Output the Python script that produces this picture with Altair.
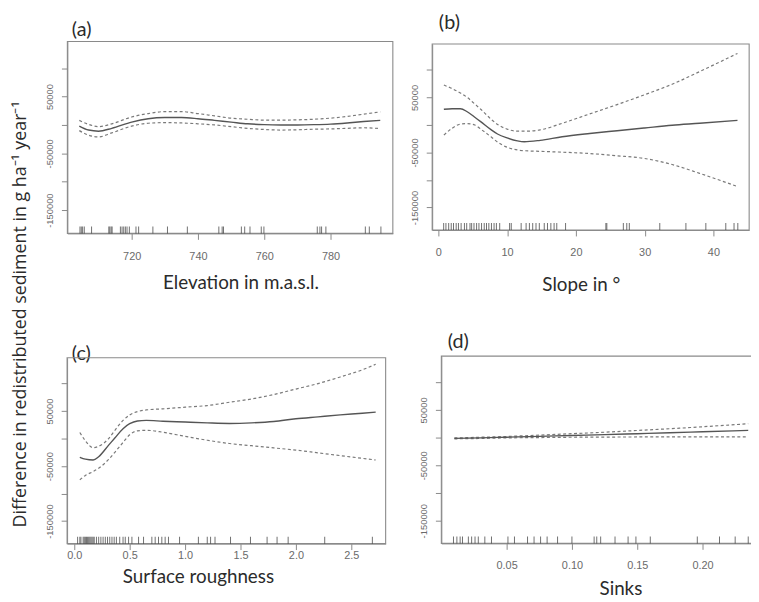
import altair as alt
import pandas as pd

# ---------------- values ----------------
Y_DOMAIN = [-191000, 147000]
Y_TICKS = [100000, 50000, 0, -50000, -100000, -150000]
Y_TITLE = "Difference in redistributed sediment in g ha\u207b\u00b9 year\u207b\u00b9"

# (a) Elevation
elev_x = [704.2, 707, 710, 714, 720, 725, 730, 735, 740, 745, 750, 755, 760, 765, 770, 775, 780, 785, 790, 795]
elev_fit = [-2000, -9000, -11000, -6000, 5000, 11000, 13000, 13000, 11000, 8000, 5000, 2000, 500, 0, 0, 500, 1500, 3500, 6000, 8000]
elev_upper = [8000, 1000, -3000, 2000, 14000, 20000, 23500, 23500, 20000, 16000, 12000, 10000, 8500, 8500, 9000, 10000, 12000, 15000, 19000, 23000]
elev_lower = [-10000, -18000, -21000, -14000, -2000, 3000, 4000, 3500, 2000, 0, -3000, -6000, -8000, -9000, -8500, -7500, -7000, -6000, -5000, -6500]
elev_rug = [704.4, 704.8, 705.2, 705.7, 707.9, 713.1, 713.4, 713.8, 714.1, 716.6, 717.1, 717.6, 718.1, 718.6,
            719.3, 721.3, 722.1, 726.4, 730.8, 736.8, 746.3, 747.3, 747.7, 753.1, 754.1, 755.7, 759.1, 759.9,
            776.0, 776.8, 777.3, 778.6, 790.5, 791.7, 795.2]
elev_ticks = [720, 740, 760, 780]

# (b) Slope
slope_x = [0.8, 2, 3.2, 4.2, 5.3, 6.2, 7.7, 8.6, 10.1, 11.5, 12.5, 14.8, 18, 22, 26, 30, 34, 38, 43.5]
slope_fit = [28500, 29500, 29500, 24000, 14000, 5500, -9000, -16500, -24000, -29000, -30600, -28000, -21500,
             -15600, -10500, -5500, -600, 3000, 8400]
slope_upper = [72500, 66000, 58000, 50000, 38000, 28000, 10000, 1000, -8000, -11400, -11400, -9000, 3000, 20000,
               37000, 55000, 74000, 97000, 130000]
slope_lower = [-18500, -6000, 1500, 2500, 0, -8000, -22000, -31000, -41000, -45500, -46800, -48000, -49500,
               -52000, -56000, -61000, -72000, -88000, -112000]
slope_rug = [0.77, 1.1, 1.5, 1.87, 2.2, 2.59, 2.92, 3.31, 3.79, 4.12, 4.6, 4.84, 5.18, 5.56, 5.9, 6.28, 6.67, 7.0,
             7.34, 7.72, 8.1, 8.44, 8.92, 10.36, 10.6, 12.04, 12.76, 13.24, 13.72, 14.2, 14.68, 15.4, 15.87, 16.36,
             16.83, 17.22, 18.5, 24.36, 24.5, 26.9, 27.4, 27.77, 32.2, 36.0, 38.9, 41.8, 43.0, 43.55]
slope_ticks = [0, 10, 20, 30, 40]

# (c) Surface roughness
rough_x = [0.05, 0.1, 0.17, 0.22, 0.31, 0.37, 0.44, 0.5, 0.57, 0.65, 0.8, 1.0, 1.2, 1.4, 1.6, 1.8, 2.0, 2.2, 2.4, 2.6, 2.72]
rough_fit = [-34000, -37500, -39000, -33000, -12000, 2000, 18000, 27000, 32000, 33000, 31500, 30000, 28500, 27500,
             28500, 31000, 36000, 39500, 43000, 46000, 48000]
rough_upper = [11000, -4000, -16500, -14000, 0, 16000, 33000, 43000, 49000, 52000, 54000, 57000, 60000, 66000,
               72000, 80000, 90000, 100000, 112000, 125000, 135000]
rough_lower = [-75000, -67000, -60000, -54000, -38000, -24000, -7000, 7000, 14000, 15000, 11500, 4000, -3000, -9000,
               -13000, -17000, -21000, -26000, -31000, -36000, -39000]
rough_rug = [0.03, 0.05, 0.06, 0.08, 0.09, 0.1, 0.11, 0.12, 0.13, 0.14, 0.15, 0.16, 0.17, 0.18, 0.2, 0.22, 0.24,
             0.26, 0.28, 0.3, 0.32, 0.34, 0.36, 0.38, 0.41, 0.44, 0.46, 0.49, 0.52, 0.58, 0.625, 0.70, 0.73, 0.76,
             0.79, 0.82, 0.85, 0.95, 1.12, 1.2, 1.23, 1.27, 1.41, 1.59, 1.74, 1.83, 1.93, 2.26, 2.69]
rough_ticks = [0.0, 0.5, 1.0, 1.5, 2.0, 2.5]

# (d) Sinks
sink_x = [0.01, 0.03, 0.05, 0.075, 0.1, 0.125, 0.15, 0.175, 0.2, 0.235]
sink_fit = [-1500, -500, 700, 2200, 3800, 5300, 7000, 8700, 10500, 13000]
sink_upper = [-700, 600, 2000, 4400, 7000, 9700, 12800, 16000, 19500, 25000]
sink_lower = [-2300, -1600, -600, 0, 600, 900, 1100, 1300, 1400, 1200]
sink_rug = [0.0093, 0.0119, 0.0144, 0.0162, 0.0207, 0.0232, 0.0258, 0.0283, 0.0333, 0.0384, 0.051, 0.056, 0.066,
            0.071, 0.076, 0.081, 0.089, 0.100, 0.117, 0.119, 0.122, 0.133, 0.143, 0.149, 0.160, 0.196, 0.213,
            0.225, 0.235]
sink_ticks = [0.05, 0.10, 0.15, 0.20]

# ---------------- layout (page pixels) ----------------
W, H = 751, 594
M = 8  # page margin
FONT = "Lato"
TICKFONT = "Liberation Sans"
GRAY = "#8a8a8a"

PANELS = [
    dict(tag="(a)", tag_xy=(72, 27), x=elev_x, fit=elev_fit, up=elev_upper, lo=elev_lower, rug=elev_rug,
         ticks=elev_ticks, fmt="d", xdom=[700.6, 798.8], cal=(720, 133, 3.35), yz=(123, 28.7),
         xtitle="Elevation in m.a.s.l.", xt_xy=(243, 282), lab_y=256, ytitle=True),
    dict(tag="(b)", tag_xy=(443, 20), x=slope_x, fit=slope_fit, up=slope_upper, lo=slope_lower, rug=slope_rug,
         ticks=slope_ticks, fmt="d", xdom=[-0.9, 45.2], cal=(0, 443, 6.95), yz=(123, 27.8),
         xtitle="Slope in \u00b0", xt_xy=(587, 284), lab_y=251, ytitle=False),
    dict(tag="(c)", tag_xy=(72, 354), x=rough_x, fit=rough_fit, up=rough_upper, lo=rough_lower, rug=rough_rug,
         ticks=rough_ticks, fmt=".1f", xdom=[-0.065, 2.81], cal=(0, 75, 112), yz=(440, 27.8),
         xtitle="Surface roughness", xt_xy=(200, 579), lab_y=558, ytitle=False),
    dict(tag="(d)", tag_xy=(452, 342), x=sink_x, fit=sink_fit, up=sink_upper, lo=sink_lower, rug=sink_rug,
         ticks=sink_ticks, fmt=".2f", xdom=[0, 0.245], cal=(0, 446, 1320), yz=(439, 28),
         xtitle="Sinks", xt_xy=(627, 592), lab_y=568, ytitle=False),
]


def build(p):
    ref, refpx, ppu = p["cal"]
    xr = [refpx + (d - ref) * ppu - M for d in p["xdom"]]
    z, k = p["yz"]
    yr = [z - Y_DOMAIN[0] / 50000 * k - M, z - Y_DOMAIN[1] / 50000 * k - M]
    xs = alt.Scale(domain=p["xdom"], range=xr, nice=False, zero=False)
    ys = alt.Scale(domain=Y_DOMAIN, range=yr, nice=False, zero=False)
    bottom = yr[0]
    lab_font = 11
    x_axis = alt.Axis(
        orient="bottom", offset=bottom - H, values=p["ticks"], format=p["fmt"], grid=False,
        tickSize=6, tickColor=GRAY, domainColor=GRAY, labelColor="#6a6a6a", labelFont=TICKFONT,
        labelFontSize=lab_font, labelPadding=(p["lab_y"] - M) - bottom - 6 - lab_font / 2,
        labelFlush=False, labelOverlap=False,
        title=p["xtitle"], titleX=p["xt_xy"][0] - M, titleY=(p["xt_xy"][1] - M) - bottom,
        titleAlign="center", titleBaseline="middle", titleFont=FONT, titleFontSize=19,
        titleFontWeight="normal", titleColor="#2b2b2b",
    )
    y_kwargs = dict(
        orient="left", offset=-xr[0], values=Y_TICKS, grid=False, tickSize=6, tickColor=GRAY,
        domainColor=GRAY, labelColor="#6a6a6a", labelFont=TICKFONT, labelFontSize=9.5, labelAngle=270,
        labelAlign="center", labelBaseline="bottom", labelPadding=7, labelOverlap=False,
        labelExpr="abs(datum.value) % 100000 == 50000 ? '' + datum.value : ''",
    )
    if p["ytitle"]:
        y_kwargs.update(title=Y_TITLE, titleX=21 - M - xr[0], titleY=314 - M, titleAngle=270,
                        titleAlign="center", titleBaseline="middle", titleFont="Open Sans", titleFontSize=18,
                        titleFontWeight="normal", titleColor="#2b2b2b")
    else:
        y_kwargs.update(title=None)
    y_axis = alt.Axis(**y_kwargs)
    tag_axis = alt.Axis(
        orient="top", offset=0, domain=False, ticks=False, labels=False, grid=False,
        title=p["tag"], titleX=p["tag_xy"][0] - M, titleY=p["tag_xy"][1] - M, titleAlign="left",
        titleBaseline="middle", titleFont=FONT, titleFontSize=20, titleFontWeight="normal",
        titleColor="#2b2b2b",
    )

    box = alt.Chart(pd.DataFrame({"k": [0]})).mark_rect(
        fill="transparent", stroke=GRAY, strokeWidth=1.1
    ).encode(
        x=alt.XDatum(p["xdom"][0], type="quantitative", scale=xs, axis=tag_axis),
        x2=alt.X2Datum(p["xdom"][1]),
        y=alt.YDatum(Y_DOMAIN[0], type="quantitative", scale=ys, axis=None),
        y2=alt.Y2Datum(Y_DOMAIN[1]),
    )

    band_df = pd.DataFrame({
        "x": list(p["x"]) * 2,
        "y": list(p["up"]) + list(p["lo"]),
        "band": ["upper"] * len(p["x"]) + ["lower"] * len(p["x"]),
    })
    bands = alt.Chart(band_df).mark_line(
        color="#7a7a7a", strokeWidth=1.2, strokeDash=[3, 2.5], interpolate="monotone"
    ).encode(
        x=alt.X("x:Q", scale=xs, axis=None),
        y=alt.Y("y:Q", scale=ys, axis=None),
        detail="band:N",
    )

    fit_df = pd.DataFrame({"x": p["x"], "y": p["fit"]})
    fit = alt.Chart(fit_df).mark_line(
        color="#555555", strokeWidth=1.4, interpolate="monotone"
    ).encode(
        x=alt.X("x:Q", scale=xs, axis=x_axis),
        y=alt.Y("y:Q", scale=ys, axis=y_axis),
    )

    rug_df = pd.DataFrame({"x": p["rug"]})
    rug = alt.Chart(rug_df).mark_tick(
        orient="vertical", size=7, thickness=1, yOffset=-3.5, color="#333333"
    ).encode(
        x=alt.X("x:Q", scale=xs, axis=None),
        y=alt.YDatum(Y_DOMAIN[0], type="quantitative", scale=ys, axis=None),
    )
    return [box, bands, fit, rug]


layers = []
for p in PANELS:
    layers.extend(build(p))

chart = alt.layer(*layers).resolve_scale(
    x="independent", y="independent"
).resolve_axis(
    x="independent", y="independent"
).properties(
    width=W, height=H, padding=0, autosize=alt.AutoSizeParams(type="none")
).configure_view(strokeWidth=0)

chart.save("out.html", embed_options={"renderer": "svg", "actions": False})
